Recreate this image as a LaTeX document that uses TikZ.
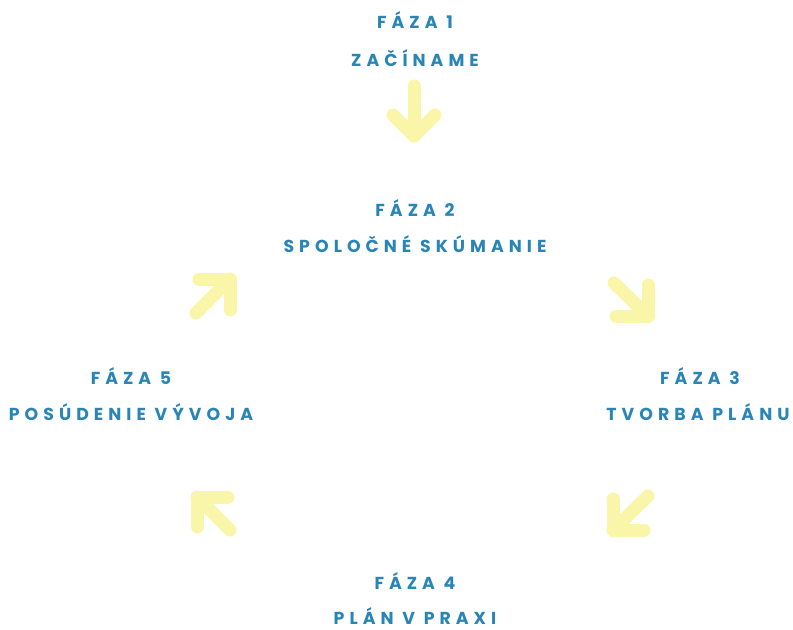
\documentclass[tikz,border=0pt]{standalone}
\usepackage{fontspec}
\setmainfont{Poppins}[LetterSpace=29]
\usepackage{tikz}

\definecolor{fazablue}{HTML}{2A85B7}
\definecolor{arrowyellow}{HTML}{F9F6A9}

\tikzset{
  faza/.style={text=fazablue, font=\fontsize{13}{15}\selectfont\bfseries, inner sep=0pt, anchor=center},
  arr/.style={draw=arrowyellow, line width=9.75pt, line cap=round, line join=round}
}

\begin{document}
\begin{tikzpicture}[x=0.75pt, y=-0.75pt]
  \useasboundingbox (0,0) rectangle (793,629);

  % phase labels
  \node[faza] (f1) at (415,20) {FÁZA 1};
  \node[faza] (n1) at (415,58) {ZAČÍNAME};
  \node[faza] (f2) at (415,208) {FÁZA 2};
  \node[faza] (n2) at (415,244) {SPOLOČNÉ SKÚMANIE};
  \node[faza] (f3) at (700,376) {FÁZA 3};
  \node[faza] (n3) at (698,412) {TVORBA PLÁNU};
  \node[faza] (f4) at (415,581) {FÁZA 4};
  \node[faza] (n4) at (415,616) {PLÁN V PRAXI};
  \node[faza] (f5) at (131,376) {FÁZA 5};
  \node[faza] (n5) at (131,412) {POSÚDENIE VÝVOJA};

  % arrows
  \coordinate (a12) at (414,86);   \coordinate (b12) at (414,136);
  \coordinate (a23) at (614,283);  \coordinate (b23) at (648,316);
  \coordinate (a34) at (648,496);  \coordinate (b34) at (613,530);
  \coordinate (a45) at (230,530);  \coordinate (b45) at (197,497);
  \coordinate (a51) at (196,313);  \coordinate (b51) at (230,279);

  \draw[arr] (a12) -- (b12);
  \draw[arr] (b12) ++(-21,-21) -- (b12) -- ++(21,-21);
  \draw[arr] (a23) -- (b23);
  \draw[arr] (b23) ++(-32,0) -- (b23) -- ++(0,-31);
  \draw[arr] (a34) -- (b34);
  \draw[arr] (b34) ++(0,-31) -- (b34) -- ++(31,0);
  \draw[arr] (a45) -- (b45);
  \draw[arr] (b45) ++(0,30) -- (b45) -- ++(31,0);
  \draw[arr] (a51) -- (b51);
  \draw[arr] (b51) ++(-31,0) -- (b51) -- ++(0,31);
\end{tikzpicture}
\end{document}
